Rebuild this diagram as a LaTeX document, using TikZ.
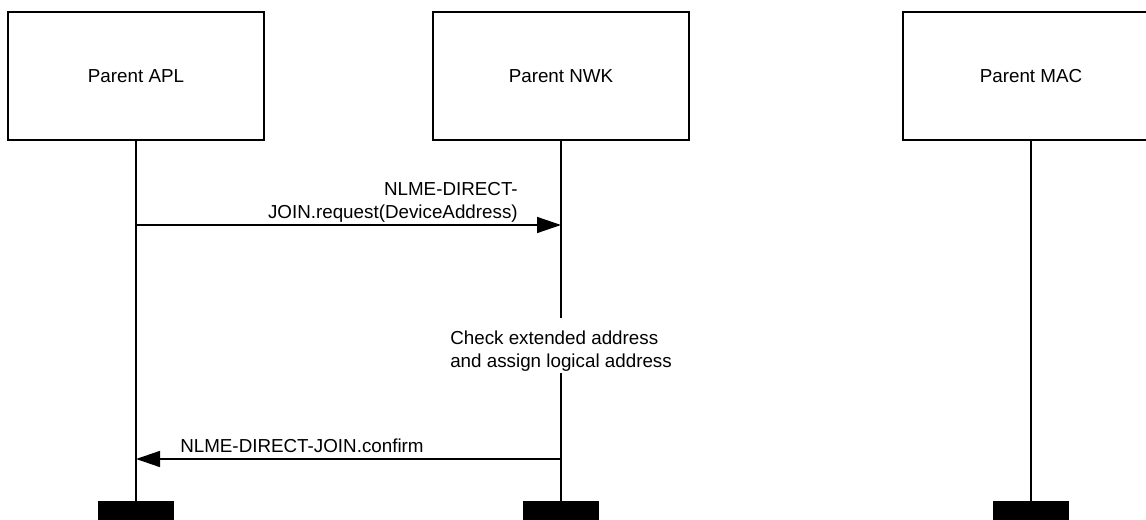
\documentclass[tikz,border=0pt]{standalone}
\usepackage{fontspec}
\setmainfont{Liberation Sans}
\usepackage{tikz}
\usetikzlibrary{arrows.meta}

\begin{document}
\begin{tikzpicture}[x=0.75pt,y=-0.75pt,>={Triangle[length=18pt,width=12pt]},
	font=\fontsize{14.1}{17.25}\selectfont,
	layer/.style={draw,line width=1.1pt,minimum width=192pt,minimum height=96pt,inner sep=0},
	endbar/.style={fill=black,minimum width=57pt,minimum height=24pt,inner sep=0,anchor=north},
	life/.style={line width=1.1pt},
	msg/.style={line width=1.1pt,->},
	lbl/.style={inner sep=0,align=left}]
			\useasboundingbox (0,0) rectangle (1146,520);
			\clip (0,0) rectangle (1146,520);
			
			\node[layer] (apl) at (136,76) {Parent APL};
			\node[layer] (nwk) at (561,76) {Parent NWK};
			\node[layer] (mac) at (1031,76) {Parent MAC};
			
			\node[endbar] (aplend) at (136,501) {};
			\node[endbar] (nwkend) at (561,501) {};
			\node[endbar] (macend) at (1031,501) {};
			
			\coordinate (nwkgap1) at (561,318);
			\coordinate (nwkgap2) at (561,373);
			
			\draw[life] (apl.south)--(aplend.north);
			\draw[life] (nwk.south)--(nwkgap1);
			\draw[life] (nwkgap2)--(nwkend.north);
			\draw[life] (mac.south)--(macend.north);
			
			\coordinate (aplreq) at (136,225);
			\coordinate (nwkreq) at (561,225);
			\coordinate (nwkcnf) at (561,459);
			\coordinate (aplcnf) at (136,459);
			
			\draw[msg] (aplreq)--(nwkreq);
			\node[lbl,align=right,anchor=north east] (reqtxt) at (518,182) {NLME-DIRECT-\\JOIN.request(DeviceAddress)};
			
			\node[lbl,anchor=north west] (chktxt) at (450,330.5) {Check extended address\\and assign logical address};
			
			\draw[msg] (nwkcnf)--(aplcnf);
			\node[lbl,anchor=base west] (cnftxt) at (180,452) {NLME-DIRECT-JOIN.confirm};
		\end{tikzpicture}
\end{document}
